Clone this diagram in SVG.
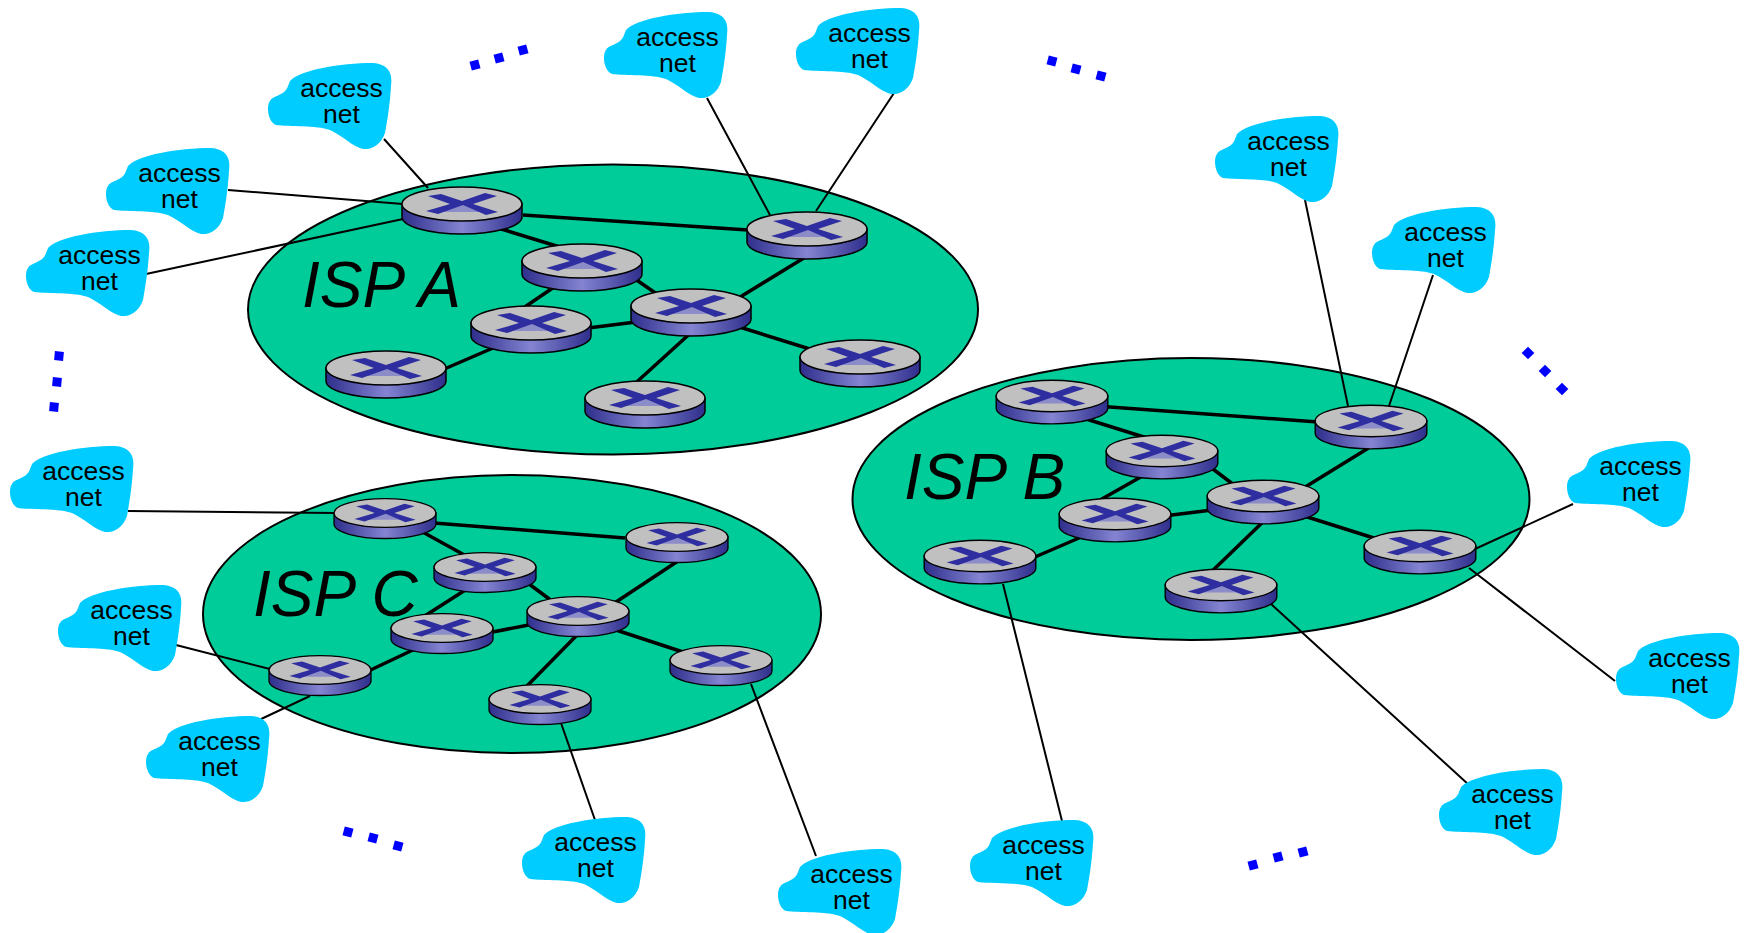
<svg xmlns="http://www.w3.org/2000/svg" xmlns:xlink="http://www.w3.org/1999/xlink" width="1745" height="933" viewBox="0 0 1745 933">
<style>
.isp{fill:#00cc99;stroke:#000;stroke-width:2}
.thin{stroke:#000;stroke-width:2;fill:none}
.thick{stroke:#000;stroke-width:3.5;fill:none}
.lbl{font-family:"Liberation Sans",Arial,sans-serif;font-size:26.5px;text-anchor:middle;fill:#000}
.isplbl{font-family:"Liberation Sans",Arial,sans-serif;font-size:64px;font-style:italic;fill:#000}
.dot{fill:#0000ff}
.cloud{fill:#00ccff}
</style>
<defs>
<linearGradient id="side" x1="0" x2="1" y1="0" y2="0">
<stop offset="0" stop-color="#2e2e8c"/><stop offset="0.5" stop-color="#8484d2"/><stop offset="1" stop-color="#2e2e8c"/>
</linearGradient>
<path id="cl" class="cloud" d="M22,18C32,7 72,0 105,0C120,1 125,10 123,23C122,40 120,53 117,70C113,82 103,87 95,86C85,84 75,73 62,67C48,62 22,64 8,62C0,59 -2,43 2,38C5,32 17,33 20,23Z"/>
<g id="rt">
<path d="M-60,0V13A60,17 0 0 0 60,13V0Z" fill="url(#side)" stroke="#000" stroke-width="1.5"/>
<ellipse cx="0" cy="0" rx="60" ry="17" fill="#c0c0c0" stroke="#000" stroke-width="1.5"/>
<polygon points="-12,0 11,0 24,8 -22,8" fill="#8c8cc8"/>
<polygon points="-34,-8 -21,-10 0,-3 23,-11 35,-8 11,0 36,8 24,11 1,1 -24,10 -36,7 -12,0" fill="#2e2ea0"/>
</g>
</defs>
<ellipse class="isp" cx="613" cy="309.5" rx="365" ry="145"/>
<ellipse class="isp" cx="1191" cy="499" rx="338.5" ry="141"/>
<ellipse class="isp" cx="512" cy="614" rx="309" ry="139"/>
<g id="connectors">
<path class="thin" d="M384,139L428,188M228,190L403,204M146,274L403,219M707,98L770,215M894,93L816,211M1305,200L1348,406M1433,275L1389,406M1573,504L1475,549M1615,681L1469,568M1469,785L1271,604M1062,821L1003,584M128,511L336,513M176,645L270,669M259,720L310,696M595,820L561,723M816,856L751,684"/>
<path class="thick" d="M523,215L748,230M498,228L563,248M625,272L667,301M563,281L513,315M580,329L644,321M732,302L812,253M500,345L435,373M733,325L813,350M695,329L629,389"/>
<path class="thick" d="M1096,406L1318,422M1083,418L1147,438M1205,463L1238,488M1146,474L1093,504M1164,516L1220,509M1302,489L1375,444M1086,535L1028,560M1301,515L1377,539M1267,518L1206,577"/>
<path class="thick" d="M434,523L625,538M419,530L468,557M521,578L556,604M470,587L420,619M482,634L539,623M610,606L681,559M415,649L360,675M613,629L689,654M580,632L525,688"/>
</g>
<g id="routers-a">
<use id="a1" href="#rt" transform="translate(462,204)"/>
<use id="a2" href="#rt" transform="translate(807,229)"/>
<use id="a3" href="#rt" transform="translate(582,261)"/>
<use id="a4" href="#rt" transform="translate(691,306)"/>
<use id="a5" href="#rt" transform="translate(531,323)"/>
<use id="a6" href="#rt" transform="translate(386,368)"/>
<use id="a7" href="#rt" transform="translate(860,357)"/>
<use id="a8" href="#rt" transform="translate(645,398)"/>
</g>
<g id="routers-b">
<use id="b1" href="#rt" transform="translate(1052,396) scale(.93)"/>
<use id="b2" href="#rt" transform="translate(1371,421) scale(.93)"/>
<use id="b3" href="#rt" transform="translate(1162,451) scale(.93)"/>
<use id="b4" href="#rt" transform="translate(1263,496) scale(.93)"/>
<use id="b5" href="#rt" transform="translate(1115,514) scale(.93)"/>
<use id="b6" href="#rt" transform="translate(980,556) scale(.93)"/>
<use id="b7" href="#rt" transform="translate(1420,546) scale(.93)"/>
<use id="b8" href="#rt" transform="translate(1221,585) scale(.93)"/>
</g>
<g id="routers-c">
<use id="c1" href="#rt" transform="translate(385,513) scale(.85)"/>
<use id="c2" href="#rt" transform="translate(677,537) scale(.85)"/>
<use id="c3" href="#rt" transform="translate(485,567) scale(.85)"/>
<use id="c4" href="#rt" transform="translate(578,611) scale(.85)"/>
<use id="c5" href="#rt" transform="translate(442,628) scale(.85)"/>
<use id="c6" href="#rt" transform="translate(320,670) scale(.85)"/>
<use id="c7" href="#rt" transform="translate(721,660) scale(.85)"/>
<use id="c8" href="#rt" transform="translate(540,699) scale(.85)"/>
</g>
<text class="isplbl" x="302" y="307">ISP A</text>
<text class="isplbl" x="904" y="499">ISP B</text>
<text class="isplbl" x="253" y="616">ISP C</text>
<g id="n1" transform="translate(268,63)"><use href="#cl"/><text class="lbl" x="73.5" y="34">access</text><text class="lbl" x="73.5" y="60">net</text></g>
<g id="n2" transform="translate(604,12)"><use href="#cl"/><text class="lbl" x="73.5" y="34">access</text><text class="lbl" x="73.5" y="60">net</text></g>
<g id="n3" transform="translate(796,8)"><use href="#cl"/><text class="lbl" x="73.5" y="34">access</text><text class="lbl" x="73.5" y="60">net</text></g>
<g id="n4" transform="translate(106,148)"><use href="#cl"/><text class="lbl" x="73.5" y="34">access</text><text class="lbl" x="73.5" y="60">net</text></g>
<g id="n5" transform="translate(26,230)"><use href="#cl"/><text class="lbl" x="73.5" y="34">access</text><text class="lbl" x="73.5" y="60">net</text></g>
<g id="n6" transform="translate(10,446)"><use href="#cl"/><text class="lbl" x="73.5" y="34">access</text><text class="lbl" x="73.5" y="60">net</text></g>
<g id="n7" transform="translate(58,585)"><use href="#cl"/><text class="lbl" x="73.5" y="34">access</text><text class="lbl" x="73.5" y="60">net</text></g>
<g id="n8" transform="translate(146,716)"><use href="#cl"/><text class="lbl" x="73.5" y="34">access</text><text class="lbl" x="73.5" y="60">net</text></g>
<g id="n9" transform="translate(522,817)"><use href="#cl"/><text class="lbl" x="73.5" y="34">access</text><text class="lbl" x="73.5" y="60">net</text></g>
<g id="n10" transform="translate(778,849)"><use href="#cl"/><text class="lbl" x="73.5" y="34">access</text><text class="lbl" x="73.5" y="60">net</text></g>
<g id="n11" transform="translate(970,820)"><use href="#cl"/><text class="lbl" x="73.5" y="34">access</text><text class="lbl" x="73.5" y="60">net</text></g>
<g id="n12" transform="translate(1439,769)"><use href="#cl"/><text class="lbl" x="73.5" y="34">access</text><text class="lbl" x="73.5" y="60">net</text></g>
<g id="n13" transform="translate(1616,633)"><use href="#cl"/><text class="lbl" x="73.5" y="34">access</text><text class="lbl" x="73.5" y="60">net</text></g>
<g id="n14" transform="translate(1567,441)"><use href="#cl"/><text class="lbl" x="73.5" y="34">access</text><text class="lbl" x="73.5" y="60">net</text></g>
<g id="n15" transform="translate(1372,207)"><use href="#cl"/><text class="lbl" x="73.5" y="34">access</text><text class="lbl" x="73.5" y="60">net</text></g>
<g id="n16" transform="translate(1215,116)"><use href="#cl"/><text class="lbl" x="73.5" y="34">access</text><text class="lbl" x="73.5" y="60">net</text></g>
<g id="dots" class="dot">
<rect x="-4.5" y="-4.5" width="9" height="9" transform="translate(475,65) rotate(-15)"/>
<rect x="-4.5" y="-4.5" width="9" height="9" transform="translate(499,58) rotate(-15)"/>
<rect x="-4.5" y="-4.5" width="9" height="9" transform="translate(523,50) rotate(-15)"/>
<rect x="-4.5" y="-4.5" width="9" height="9" transform="translate(1052,61) rotate(15)"/>
<rect x="-4.5" y="-4.5" width="9" height="9" transform="translate(1076,69) rotate(15)"/>
<rect x="-4.5" y="-4.5" width="9" height="9" transform="translate(1101,76) rotate(15)"/>
<rect x="-4.5" y="-4.5" width="9" height="9" transform="translate(1528,353) rotate(45)"/>
<rect x="-4.5" y="-4.5" width="9" height="9" transform="translate(1545,371) rotate(45)"/>
<rect x="-4.5" y="-4.5" width="9" height="9" transform="translate(1562,389) rotate(45)"/>
<rect x="-4.5" y="-4.5" width="9" height="9" transform="translate(59,356) rotate(5)"/>
<rect x="-4.5" y="-4.5" width="9" height="9" transform="translate(57,382) rotate(5)"/>
<rect x="-4.5" y="-4.5" width="9" height="9" transform="translate(54,407) rotate(5)"/>
<rect x="-4.5" y="-4.5" width="9" height="9" transform="translate(348,832) rotate(15)"/>
<rect x="-4.5" y="-4.5" width="9" height="9" transform="translate(373,838) rotate(15)"/>
<rect x="-4.5" y="-4.5" width="9" height="9" transform="translate(398,846) rotate(15)"/>
<rect x="-4.5" y="-4.5" width="9" height="9" transform="translate(1253,865) rotate(-15)"/>
<rect x="-4.5" y="-4.5" width="9" height="9" transform="translate(1278,857) rotate(-15)"/>
<rect x="-4.5" y="-4.5" width="9" height="9" transform="translate(1303,852) rotate(-15)"/>
</g>
</svg>
